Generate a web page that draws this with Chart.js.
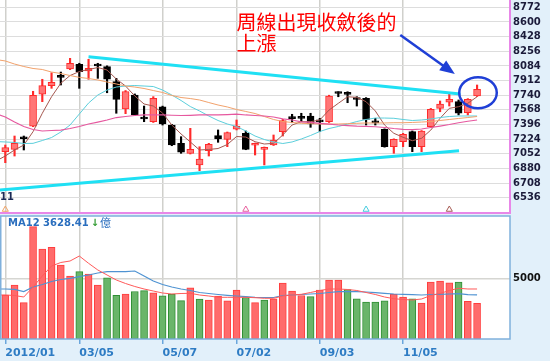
<!DOCTYPE html>
<html>
<head>
<meta charset="utf-8">
<script src="https://cdn.jsdelivr.net/npm/chart.js@4.4.1/dist/chart.umd.min.js"></script>
<style>
  html, body { margin: 0; padding: 0; background: #e2f0fa; }
  #wrap { position: relative; width: 550px; height: 361px; overflow: hidden; }
  #priceChart { position: absolute; left: 0; top: 0; }
  #volChart { position: absolute; left: 0; top: 213px; }
</style>
</head>
<body>
<div id="wrap">
  <canvas id="priceChart" width="550" height="214"></canvas>
  <canvas id="volChart" width="550" height="148"></canvas>
</div>
<script>
// ---- weekly data, 52 weeks of 2012 (index 0 = first week of Jan) ----
const tickIdx    = [0, 8, 17, 25, 34, 43];
const tickLabels = ['2012/01', '03/05', '05/07', '07/02', '09/03', '11/05'];
const priceTicks = [6536, 6708, 6880, 7052, 7224, 7396, 7568, 7740, 7912, 8084, 8256, 8428, 8600, 8772];
const volTicks   = [5000];

const opens  = [7077,7105,7246,7378,7751,7852,7965,8048,8103,8024,8100,8075,7899,7578,7742,7472,7429,7605,7390,7175,7058,6921,7088,7265,7222,7340,7293,7152,7105,7155,7312,7477,7480,7496,7436,7429,7770,7762,7700,7704,7427,7340,7136,7194,7312,7135,7370,7586,7657,7664,7535,7731];
const highs  = [7155,7261,7261,7786,7927,8004,8012,8173,8115,8162,8115,8085,7938,7795,7755,7613,7723,7612,7398,7253,7351,7135,7175,7332,7308,7449,7320,7178,7132,7273,7457,7516,7528,7528,7469,7740,7781,7781,7723,7712,7469,7345,7228,7292,7320,7325,7585,7672,7751,7684,7700,7860];
const lows   = [6948,7026,7097,7370,7664,7821,7860,8040,7821,7927,7938,7769,7528,7523,7500,7429,7420,7390,7147,7058,7050,6854,7026,7187,7136,7332,7100,7038,6921,7150,7261,7417,7429,7363,7312,7420,7722,7652,7613,7390,7390,7130,7058,7136,7077,7077,7360,7546,7613,7508,7508,7725];
const closes = [7124,7175,7229,7739,7852,7891,7950,8115,8016,8056,8083,7927,7692,7784,7508,7461,7704,7402,7155,7070,7105,6991,7164,7226,7300,7378,7105,7175,7128,7214,7441,7465,7468,7402,7427,7731,7760,7750,7690,7457,7415,7135,7222,7281,7135,7320,7575,7637,7692,7528,7692,7809];

// moving averages: first value is the week before index 0
const ma5  = [6968,7026,7097,7155,7312,7528,7722,7880,7971,8018,8042,8065,8036,7930,7848,7731,7637,7613,7531,7390,7285,7191,7097,7103,7114,7161,7255,7249,7194,7167,7175,7273,7390,7429,7429,7449,7566,7645,7722,7715,7664,7555,7390,7293,7246,7206,7234,7331,7469,7586,7605,7645,7722];
const ma13 = [7196,7191,7185,7173,7175,7208,7243,7308,7390,7519,7648,7742,7801,7836,7848,7854,7848,7842,7801,7742,7678,7607,7555,7496,7443,7402,7373,7320,7261,7220,7191,7173,7191,7226,7267,7314,7349,7373,7402,7431,7455,7472,7472,7469,7455,7443,7449,7461,7478,7490,7496,7496,7496];
const ma26 = [8159,8142,8106,8077,8054,8042,8012,7995,7971,7950,7936,7919,7895,7872,7848,7836,7819,7795,7772,7737,7713,7701,7684,7654,7625,7602,7572,7549,7525,7490,7455,7431,7420,7410,7406,7402,7402,7402,7406,7410,7414,7414,7414,7417,7417,7420,7425,7431,7443,7455,7467,7478,7490];
const ma52 = [7525,7484,7425,7373,7337,7320,7326,7331,7349,7373,7402,7425,7449,7478,7490,7502,7508,7508,7508,7505,7502,7504,7508,7508,7508,7513,7519,7508,7502,7496,7484,7463,7449,7428,7420,7410,7400,7390,7384,7378,7375,7370,7361,7349,7340,7337,7343,7361,7378,7396,7417,7434,7449];

// hand drawn trend lines [week index, price]
const upperTrend = [[9, 8191], [49.2, 7754]];
const lowerTrend = [[-1, 6623], [49.05, 7087]];

// small signal marks under the candles
const markerIdx    = [0, 26, 39, 48];
const markerColors = ['#f2a466', '#e8609e', '#48cde0', '#a85c55'];

// volume (億)
const volumes = [3626,4450,2991,9254,7416,7556,6098,5191,5546,5356,4450,5043,3601,3708,3914,3980,3807,3560,3708,3156,4219,3296,3214,3527,3148,4038,3420,2991,3214,3312,4614,3955,3584,3486,4038,4845,4845,4079,3312,3032,3032,3148,3692,3461,3312,2966,4680,4779,4631,4680,3106,2942];
const volUp   = [1,1,1,1,1,1,1,1,0,1, 1,0,0,1,0,0,1,0,0,0, 1,0,1,1,1,1,0,1,0,1, 1,1,1,0,1,1,1,0,0,0, 0,0,1,1,0,1,1,1,1,0, 1,1];
const volMa5  = [3626,3626,3584,3461,4285,5191,6015,6304,6427,6839,6238,5686,5274,4862,4573,4326,4120,3955,3790,3708,3749,3766,3626,3543,3436,3436,3436,3436,3403,3354,3354,3543,3626,3683,3832,3996,4120,4120,4079,3996,3832,3667,3461,3321,3255,3214,3296,3584,3749,3996,4178,4120,4120];
const volMa12 = [4120,4120,4095,3914,4285,4491,4738,4903,5002,5134,5274,5438,5546,5546,5546,5603,5191,4779,4491,4285,4120,3996,3832,3749,3667,3601,3543,3486,3436,3420,3420,3584,3626,3667,3708,3749,3832,3898,3898,3898,3873,3815,3766,3708,3683,3650,3626,3667,3683,3708,3733,3660,3628];
const maLabel = 'MA12 3628.41';

const noteLines = ['周線出現收斂後的', '上漲'];

// ---- scale ranges ----
const xMin = -0.573, xMax = 54.56;
const priceMin = 6357, priceMax = 8858;
const volMax = 10135;

Chart.defaults.font.family = '"DejaVu Sans", sans-serif';

const weeks = opens.map((_, i) => i);
const isUp = i => closes[i] >= opens[i];
const maPoints = arr => arr.map((v, k) => ({ x: k - 1, y: v }));
const pairPoints = arr => arr.map(p => ({ x: p[0], y: p[1] }));

// keep the plot area flush with the canvas edges
const noPad = s => { s.paddingTop = 0; s.paddingBottom = 0; s.paddingLeft = 0; s.paddingRight = 0; };

const panelBg = {
  id: 'panelBg',
  beforeDraw(chart) {
    const { ctx, chartArea: a } = chart;
    ctx.save();
    ctx.fillStyle = '#ffffff';
    ctx.fillRect(a.left, a.top, a.right - a.left, a.bottom - a.top);
    ctx.restore();
  }
};

const priceNotes = {
  id: 'priceNotes',
  afterDraw(chart) {
    const { ctx, scales: { x, y } } = chart;
    ctx.save();
    ctx.textBaseline = 'middle';
    ctx.textAlign = 'left';

    ctx.font = 'bold 10px "DejaVu Sans"';
    ctx.fillStyle = '#1c2a55';
    ctx.fillText('11', 0, y.getPixelForValue(priceTicks[0]));

    ctx.font = '20px "Noto Sans CJK TC"';
    ctx.fillStyle = '#ff0000';
    const nx = x.getPixelForValue(25), ny = y.getPixelForValue(8600);
    noteLines.forEach((t, k) => ctx.fillText(t, nx, ny + k * 21));

    // arrow pointing at the last candle
    const ax0 = x.getPixelForValue(42.7), ay0 = y.getPixelForValue(8447);
    const ax1 = x.getPixelForValue(48.6), ay1 = y.getPixelForValue(7989);
    const ang = Math.atan2(ay1 - ay0, ax1 - ax0);
    const c = Math.cos(ang), s = Math.sin(ang);
    ctx.strokeStyle = '#1f3fd6';
    ctx.fillStyle = '#1f3fd6';
    ctx.lineWidth = 2.5;
    ctx.beginPath();
    ctx.moveTo(ax0, ay0);
    ctx.lineTo(ax1 - 10 * c, ay1 - 10 * s);
    ctx.stroke();
    ctx.beginPath();
    ctx.moveTo(ax1, ay1);
    ctx.lineTo(ax1 - 15 * c + 6 * s, ay1 - 15 * s - 6 * c);
    ctx.lineTo(ax1 - 15 * c - 6 * s, ay1 - 15 * s + 6 * c);
    ctx.closePath();
    ctx.fill();

    // circle round the last candle
    const cx = x.getPixelForValue(51.1), cy = y.getPixelForValue(7769);
    const rx = x.getPixelForValue(53.13) - cx, ry = y.getPixelForValue(7587) - cy;
    ctx.beginPath();
    ctx.ellipse(cx, cy, rx, ry, 0, 0, Math.PI * 2);
    ctx.stroke();
    ctx.restore();
  }
};

const volNotes = {
  id: 'volNotes',
  afterDraw(chart) {
    const { ctx, chartArea: a } = chart;
    ctx.save();
    ctx.strokeStyle = '#7fb0dc';
    ctx.lineWidth = 1.5;
    ctx.strokeRect(a.left + 0.75, a.top, a.right - a.left - 0.75, a.bottom - a.top);

    ctx.textBaseline = 'middle';
    ctx.font = 'bold 10px "DejaVu Sans"';
    ctx.fillStyle = '#2a6ebe';
    const tx = a.left + 8, ty = a.top + 7;
    ctx.fillText(maLabel, tx, ty);
    let w = ctx.measureText(maLabel).width + 2;
    ctx.fillStyle = '#2e9a2e';
    ctx.fillText('↓', tx + w, ty);
    w += ctx.measureText('↓').width + 1;
    ctx.font = '11px "Noto Sans CJK TC"';
    ctx.fillStyle = '#2a6ebe';
    ctx.fillText('億', tx + w, ty);
    ctx.restore();
  }
};

const lineOpts = { pointRadius: 0, pointHoverRadius: 0, pointHitRadius: 0 };

new Chart(document.getElementById('priceChart'), {
  type: 'bar',
  data: {
    datasets: [
      { type: 'line', data: pairPoints(upperTrend), borderColor: '#1fe0f4', borderWidth: 3, ...lineOpts, order: 0 },
      { type: 'line', data: pairPoints(lowerTrend), borderColor: '#1fe0f4', borderWidth: 3, ...lineOpts, order: 0 },
      { type: 'line', showLine: false, data: markerIdx.map(i => ({ x: i, y: 6398 })),
        pointStyle: 'triangle', pointRadius: 3.5, pointHoverRadius: 0, pointBorderWidth: 1,
        pointBorderColor: markerColors, pointBackgroundColor: 'rgba(0,0,0,0)', order: 0 },
      { type: 'line', data: maPoints(ma52), borderColor: '#e6589f', borderWidth: 1.2, ...lineOpts, order: 1 },
      { type: 'line', data: maPoints(ma26), borderColor: '#f2a26c', borderWidth: 1, ...lineOpts, order: 1 },
      { type: 'line', data: maPoints(ma13), borderColor: '#5ccfdc', borderWidth: 1, ...lineOpts, order: 1 },
      { type: 'line', data: maPoints(ma5), borderColor: '#a5574f', borderWidth: 1, ...lineOpts, order: 1 },
      {
        data: weeks.map(i => ({ x: i, y: [opens[i], closes[i]] })),
        backgroundColor: weeks.map(i => isUp(i) ? '#ff7676' : '#000000'),
        borderColor: weeks.map(i => isUp(i) ? '#ff2a2a' : '#000000'),
        borderWidth: 1, borderSkipped: false, minBarLength: 2,
        barThickness: 7, maxBarThickness: 7, grouped: false, order: 2
      },
      {
        data: weeks.map(i => ({ x: i, y: [lows[i], highs[i]] })),
        backgroundColor: weeks.map(i => isUp(i) ? '#ff2a2a' : '#000000'),
        borderWidth: 0, barThickness: 1.5, maxBarThickness: 1.5, grouped: false, order: 3
      }
    ]
  },
  options: {
    responsive: false,
    animation: false,
    events: [],
    layout: { autoPadding: false, padding: { left: 0, right: 0, top: 0, bottom: 1 } },
    plugins: { legend: { display: false }, tooltip: { enabled: false } },
    scales: {
      x: {
        type: 'linear', min: xMin, max: xMax, offset: false,
        afterBuildTicks: s => { s.ticks = tickIdx.map(v => ({ value: v })); },
        afterFit: s => { s.height = 0; noPad(s); },
        ticks: { display: false },
        grid: { color: '#d0d0cc', lineWidth: 1.5, drawTicks: false, offset: false },
        border: { display: true, color: '#e887e8', width: 2 }
      },
      y: {
        position: 'right', min: priceMin, max: priceMax,
        afterBuildTicks: s => { s.ticks = priceTicks.map(v => ({ value: v })); },
        afterFit: s => { s.width = 40; noPad(s); },
        ticks: { autoSkip: false, padding: 3, color: '#1b1b3a', font: { size: 10, weight: 'bold' }, callback: v => String(v) },
        grid: { color: '#dddddd', drawTicks: false },
        border: { display: true, color: '#e887e8', width: 2 }
      }
    }
  },
  plugins: [panelBg, priceNotes]
});

new Chart(document.getElementById('volChart'), {
  type: 'bar',
  data: {
    datasets: [
      { type: 'line', data: maPoints(volMa5), borderColor: '#ff5a5a', borderWidth: 1, ...lineOpts, order: 0 },
      { type: 'line', data: maPoints(volMa12), borderColor: '#4f93d2', borderWidth: 1.2, ...lineOpts, order: 0 },
      {
        data: volumes.map((v, i) => ({ x: i, y: v })),
        backgroundColor: volUp.map(u => u ? '#ff6b6b' : '#6ab56a'),
        borderColor: volUp.map(u => u ? '#ff3d3d' : '#2f8f34'),
        borderWidth: 1, borderSkipped: false,
        barThickness: 7, maxBarThickness: 7, grouped: false, order: 1
      }
    ]
  },
  options: {
    responsive: false,
    animation: false,
    events: [],
    layout: { autoPadding: false, padding: { left: 0, right: 0, top: 3, bottom: 0 } },
    plugins: { legend: { display: false }, tooltip: { enabled: false } },
    scales: {
      x: {
        type: 'linear', min: xMin, max: xMax, offset: false,
        afterBuildTicks: s => { s.ticks = tickIdx.map(v => ({ value: v })); },
        afterFit: s => { s.height = 22; noPad(s); },
        ticks: {
          autoSkip: false, maxRotation: 0, align: 'start', padding: 3,
          color: '#2e7cc4', font: { size: 11, weight: 'bold' },
          callback: v => tickLabels[tickIdx.indexOf(v)]
        },
        grid: { color: '#d0d0cc', lineWidth: 1.5, tickColor: '#6aa6dc', tickLength: 5, offset: false },
        border: { display: false }
      },
      y: {
        position: 'right', min: 0, max: volMax,
        afterBuildTicks: s => { s.ticks = volTicks.map(v => ({ value: v })); },
        afterFit: s => { s.width = 40; noPad(s); },
        ticks: { padding: 3, color: '#111111', font: { size: 10, weight: 'bold' }, callback: v => String(v) },
        grid: { color: '#d6d6d2', lineWidth: 1.5, drawTicks: false },
        border: { display: false }
      }
    }
  },
  plugins: [panelBg, volNotes]
});
</script>
</body>
</html>
